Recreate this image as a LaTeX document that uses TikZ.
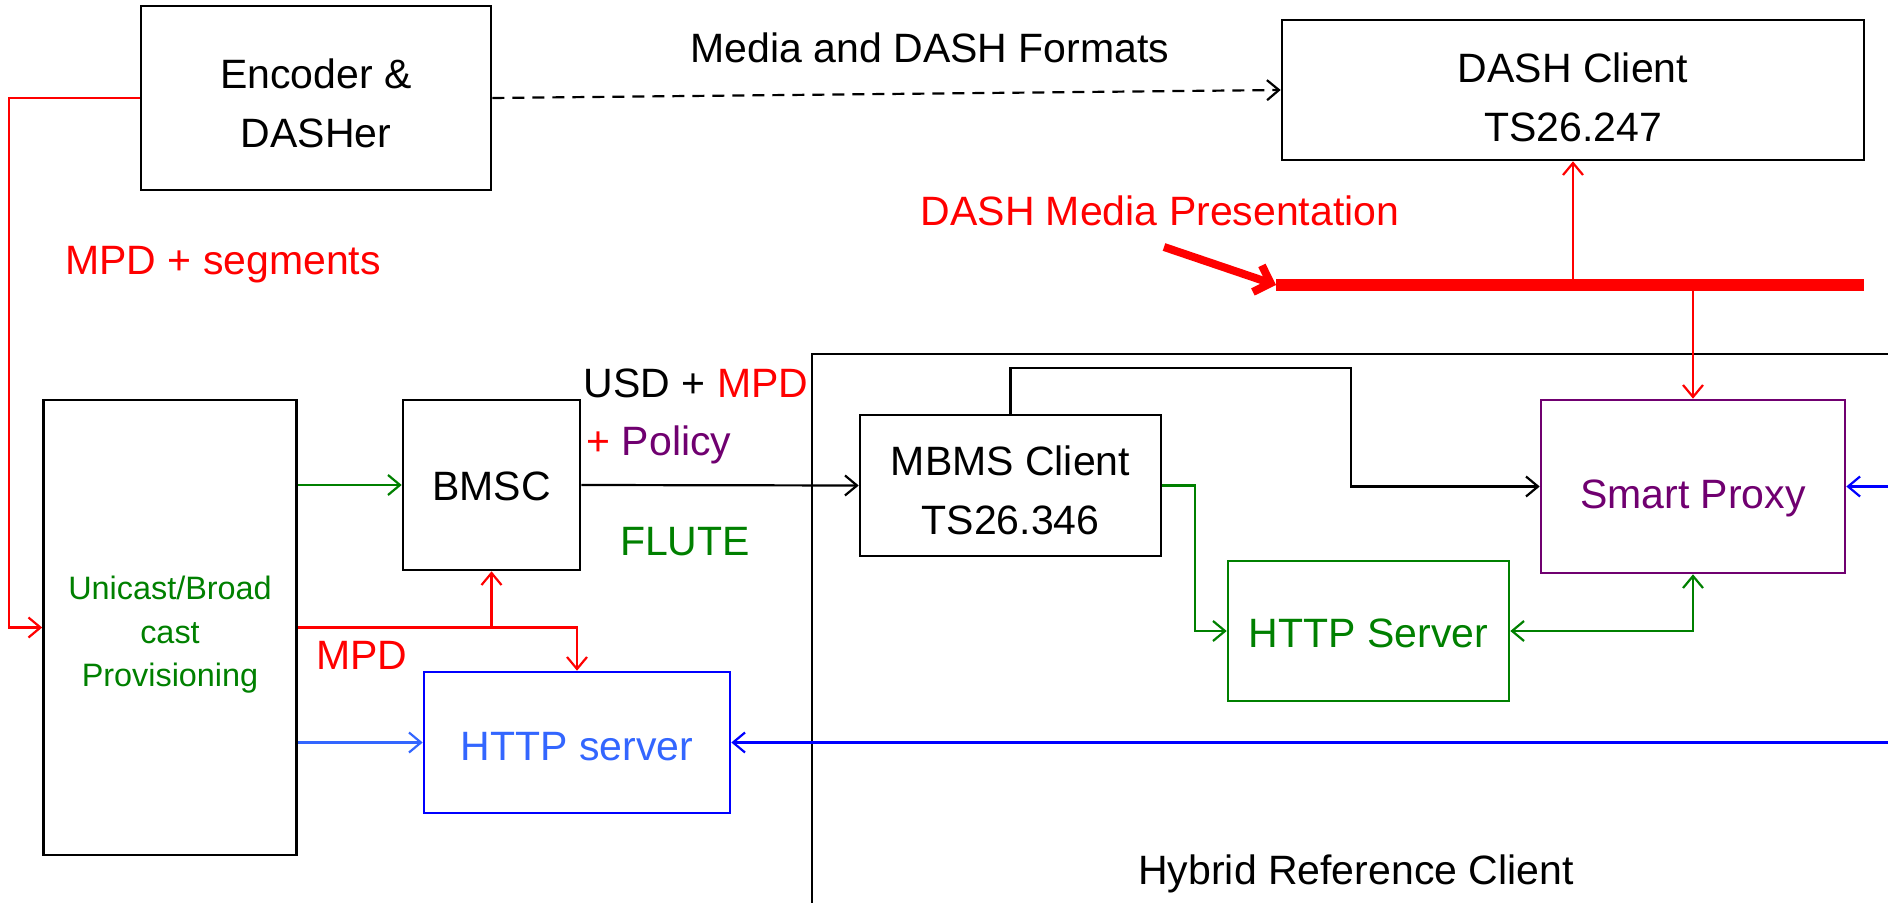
\documentclass[tikz,border=0pt]{standalone}
\usepackage{fontspec}
\setmainfont{Liberation Sans}
\usetikzlibrary{arrows.meta}
\definecolor{cgreen}{RGB}{0,128,0}
\definecolor{cpurple}{RGB}{112,0,112}
\definecolor{cred}{RGB}{255,0,0}
\definecolor{cblue}{RGB}{0,0,255}
\definecolor{clblue}{RGB}{51,102,255}
\newcommand\lowtxt[2]{\raisebox{-#1}[\height][\depth]{\begin{tabular}{@{}c@{}}#2\end{tabular}}}
\begin{document}
\begin{tikzpicture}[x=0.5pt,y=-0.5pt,
  every node/.style={font=\fontsize{20.5}{29.5}\selectfont},
  box/.style={draw, line width=1.3pt, inner sep=0pt, align=center},
  arr/.style={-{Straight Barb[length=6pt,width=10pt]}, line width=1.1pt},
  darr/.style={{Straight Barb[length=6pt,width=10pt]}-{Straight Barb[length=6pt,width=10pt]}, line width=1.1pt}]
\useasboundingbox (0,0) rectangle (1888,903);
% container
\draw[line width=1.3pt] (1888,354) -- (812,354) -- (812,903);
\node (hyb) at (1356,874) {Hybrid Reference Client};
% boxes
\node[box, minimum width=175pt, minimum height=92pt] (enc) at (316,98) {\lowtxt{4pt}{Encoder \&\\DASHer}};
\node[box, minimum width=291pt, minimum height=70pt] (dash) at (1573,90) {\lowtxt{5pt}{DASH Client\\TS26.247}};
\node[box, minimum width=126.5pt, minimum height=227.5pt, text=cgreen, font=\fontsize{16.2}{21.7}\selectfont] (uni) at (170,627.5) {\lowtxt{3.5pt}{Unicast/Broad\\cast\\Provisioning}};
\node[box, minimum width=88.5pt, minimum height=85pt] (bmsc) at (491.5,485) {\lowtxt{2pt}{BMSC}};
\node[box, minimum width=150.5pt, minimum height=70.5pt] (mbms) at (1010.5,485.5) {\lowtxt{4pt}{MBMS Client\\TS26.346}};
\node[box, draw=cpurple, text=cpurple, minimum width=152pt, minimum height=86.5pt] (proxy) at (1693,486.5) {\lowtxt{5pt}{Smart Proxy}};
\node[box, draw=cgreen, text=cgreen, minimum width=140.5pt, minimum height=70pt] (hsg) at (1368.5,631) {\lowtxt{2.5pt}{HTTP Server}};
\node[box, draw=cblue, text=clblue, minimum width=153pt, minimum height=70.5pt] (hsb) at (577,742.5) {\lowtxt{3pt}{HTTP server}};
% labels
\node (lmedia) at (930,48) {Media and DASH Formats};
\node[text=cred] (ldmp) at (1160,211) {DASH Media Presentation};
\node[text=cred] (lseg) at (223,265) {MPD + segments};
\node (lusd) at (696,383) {USD + \textcolor{cred}{MPD}};
\node (lpol) at (659,445) {\textcolor{cred}{+} \textcolor{cpurple}{Policy}};
\node[text=cgreen] (lflute) at (685,542) {FLUTE};
\node[text=cred] (lmpd) at (362,655) {MPD};
% connectors
\draw[arr, dashed, dash pattern=on 6pt off 4pt] (enc.east) -- (dash.west);
\draw[arr, cred] (enc.west) -- ++(-131,0) |- (uni.west);
\coordinate (barL) at (1276,285);
\coordinate (barR) at (1864,285);
\draw[cred, line width=6pt] (barL) -- (barR);
\coordinate (thk) at (1164,247);
\draw[cred, line width=4pt, -{Straight Barb[length=7pt,width=14pt]}] (thk) -- (barL);
\draw[arr, cred] (dash.south |- barL) -- (dash.south);
\draw[arr, cred] (proxy.north |- barL) -- (proxy.north);
\draw[arr, cgreen] (bmsc.west -| uni.east) -- (bmsc.west);
\draw[arr] (bmsc.east) -- (mbms.west);
\coordinate (bend1) at (1351,368);
\draw[arr] (mbms.north) |- (bend1) |- (proxy.west);
\draw[arr, cgreen] (mbms.east) -- ++(33,0) |- (hsg.west);
\draw[darr, cgreen] (hsg.east) -| (proxy.south);
\coordinate (re1) at (1888,486.5);
\coordinate (re2) at (1888,742.5);
\draw[arr, cblue] (re1) -- (proxy.east);
\draw[arr, cblue] (re2) -- (hsb.east);
\draw[arr, clblue] (hsb.west -| uni.east) -- (hsb.west);
\draw[arr, cred] (uni.east) -| (hsb.north);
\draw[arr, cred] (bmsc.south |- uni.east) -- (bmsc.south);
\end{tikzpicture}
\end{document}
